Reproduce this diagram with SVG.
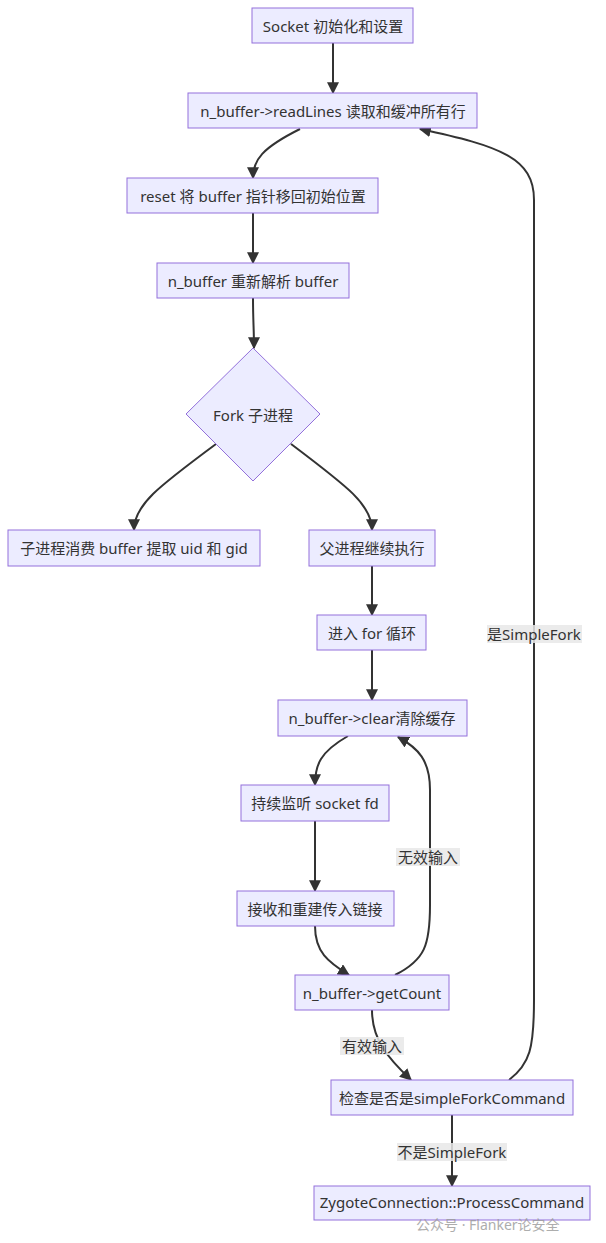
<svg xmlns="http://www.w3.org/2000/svg" width="606" height="1243" viewBox="0 0 606 1243">
<style>
.n rect,.n polygon{fill:#ECECFF;stroke:#9370DB;stroke-width:1}
text{font-family:"Noto Sans","Noto Sans CJK SC",sans-serif;font-size:15px;fill:#333;text-anchor:middle;dominant-baseline:central}
.e path{fill:none;stroke:#333;stroke-width:2}
.lb{fill:#E8E8E8;fill-opacity:0.85}
.wm{fill:#999;font-size:14px;text-anchor:start;opacity:0.8}
</style>
<defs>
<marker id="ah" viewBox="0 0 10 10" refX="9" refY="5" markerWidth="12" markerHeight="12" markerUnits="userSpaceOnUse" orient="auto">
<path d="M0,0 L10,5 L0,10 z" fill="#333"/>
</marker>
</defs>
<rect width="606" height="1243" fill="#fff"/>
<g class="e">
<path d="M333,43 L333,93" marker-end="url(#ah)"/>
<path d="M300,129 C262,148 253,160 253,178" marker-end="url(#ah)"/>
<path d="M253,213 L253,263" marker-end="url(#ah)"/>
<path d="M253,298 C253,320 254,330 254,348" marker-end="url(#ah)"/>
<path d="M216,444 C158,487 134,505 134,530" marker-end="url(#ah)"/>
<path d="M291,444 C348,487 372,505 372,530" marker-end="url(#ah)"/>
<path d="M372,566 L372,615" marker-end="url(#ah)"/>
<path d="M372,650 L372,700" marker-end="url(#ah)"/>
<path d="M348,736 C320,752 315,765 315,785" marker-end="url(#ah)"/>
<path d="M315,821 L315,891" marker-end="url(#ah)"/>
<path d="M315,926 C315,952 328,962 349,975" marker-end="url(#ah)"/>
<path d="M395,975 C425,960 430,945 430,905 L430,790 C430,760 418,748 398,737" marker-end="url(#ah)"/>
<path d="M372,1010 C372,1040 388,1058 411,1080" marker-end="url(#ah)"/>
<path d="M509,1080 C530,1064 534,1048 534,1000 L534,200 C534,158 500,146 420,129" marker-end="url(#ah)"/>
<path d="M452,1115 L452,1186" marker-end="url(#ah)"/>
</g>
<g id="labels">
<rect class="lb" x="487" y="625" width="95" height="18"/><text x="534" y="634">是SimpleFork</text>
<rect class="lb" x="396" y="848" width="64" height="18"/><text x="428" y="857">无效输入</text>
<rect class="lb" x="340" y="1037" width="64" height="18"/><text x="372" y="1046">有效输入</text>
<rect class="lb" x="397" y="1143" width="110" height="18"/><text x="452" y="1152">不是SimpleFork</text>
</g>
<g id="n1" class="n"><rect x="252" y="8" width="161" height="35"/><text x="333" y="26">Socket 初始化和设置</text></g>
<g id="n2" class="n"><rect x="188" y="93" width="289" height="35"/><text x="333" y="111">n_buffer-&gt;readLines 读取和缓冲所有行</text></g>
<g id="n3" class="n"><rect x="127" y="178" width="251" height="35"/><text x="253" y="196">reset 将 buffer 指针移回初始位置</text></g>
<g id="n4" class="n"><rect x="157" y="263" width="192" height="35"/><text x="253" y="281">n_buffer 重新解析 buffer</text></g>
<g id="n5" class="n"><polygon points="253,348 320,414 253,481 186,414"/><text x="253" y="415">Fork 子进程</text></g>
<g id="n6" class="n"><rect x="8" y="530" width="252" height="36"/><text x="134" y="548">子进程消费 buffer 提取 uid 和 gid</text></g>
<g id="n7" class="n"><rect x="309" y="530" width="126" height="36"/><text x="372" y="548">父进程继续执行</text></g>
<g id="n8" class="n"><rect x="317" y="615" width="109" height="35"/><text x="372" y="633">进入 for 循环</text></g>
<g id="n9" class="n"><rect x="278" y="700" width="189" height="36"/><text x="372" y="718">n_buffer-&gt;clear清除缓存</text></g>
<g id="n10" class="n"><rect x="241" y="785" width="148" height="36"/><text x="315" y="803">持续监听 socket fd</text></g>
<g id="n11" class="n"><rect x="237" y="891" width="157" height="35"/><text x="315" y="909">接收和重建传入链接</text></g>
<g id="n12" class="n"><rect x="295" y="975" width="154" height="35"/><text x="372" y="993">n_buffer-&gt;getCount</text></g>
<g id="n13" class="n"><rect x="331" y="1080" width="242" height="35"/><text x="452" y="1098">检查是否是simpleForkCommand</text></g>
<g id="n14" class="n"><rect x="314" y="1186" width="276" height="34"/><text x="452" y="1202">ZygoteConnection::ProcessCommand</text></g>
<text class="wm" x="416" y="1224">公众号 · Flanker论安全</text>
</svg>
